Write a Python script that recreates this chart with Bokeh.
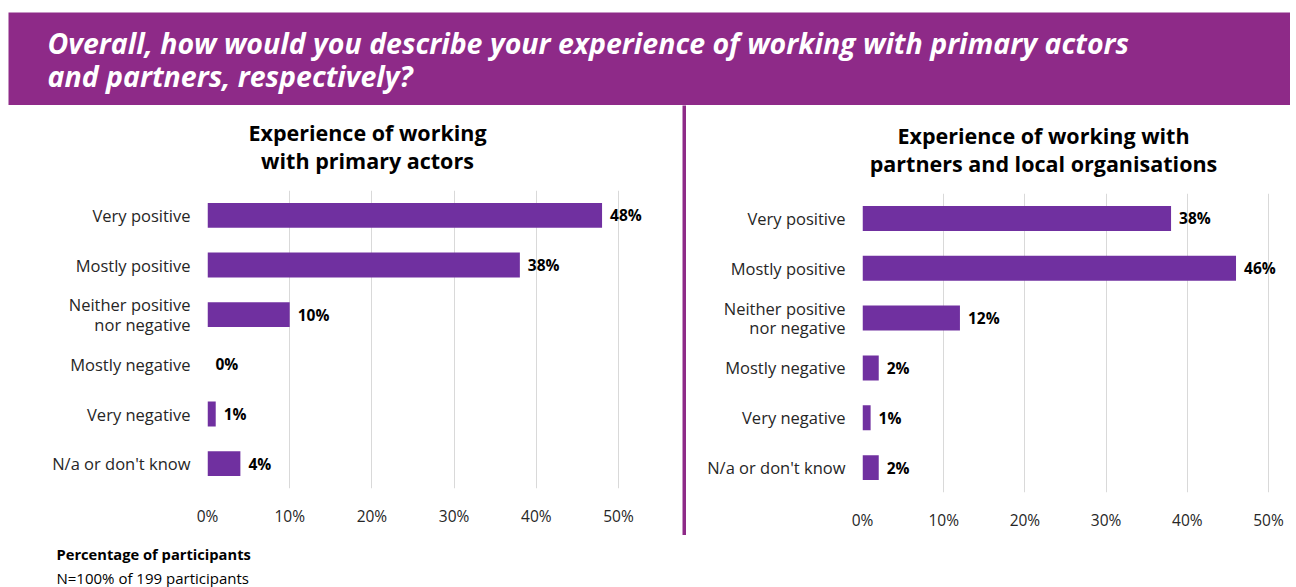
from bokeh.plotting import figure
from bokeh.models import Label, LabelSet, Range1d, FactorRange, ColumnDataSource, FixedTicker, Spacer
from bokeh.layouts import column, row
from bokeh.embed import file_html
from bokeh.resources import INLINE
from bokeh.core.properties import value

# ---------------- data ----------------
categories = ["Very positive", "Mostly positive", "Neither positive\nnor negative",
              "Mostly negative", "Very negative", "N/a or don't know"]
primary_actors = [48, 38, 10, 0, 1, 4]
partners = [38, 46, 12, 2, 1, 2]
x_ticks = [0, 10, 20, 30, 40, 50]
tick_labels = ["0%", "10%", "20%", "30%", "40%", "50%"]

banner_title = ["Overall, how would you describe your experience of working with primary actors",
                "and partners, respectively?"]
left_title = ["Experience of working", "with primary actors"]
right_title = ["Experience of working with", "partners and local organisations"]
footnotes = ["Percentage of participants", "N=100% of 199 participants"]

FONT = "Open Sans"
BAR = "#7030A0"
BANNER = "#8E2A88"
TXT = "#262626"


def text_fig(width, height, bg, items):
    """A figure whose frame fills it, in pixel coordinates (y down), for free text."""
    p = figure(width=width, height=height, output_backend="svg", toolbar_location=None,
               min_border=0, background_fill_color=bg, border_fill_color=bg,
               outline_line_color=None, x_range=Range1d(0, width), y_range=Range1d(height, 0),
               frame_align=False)
    p.axis.visible = False
    p.grid.visible = False
    for it in items:
        p.add_layout(Label(text_baseline="middle", text_font=FONT, **it))
    return p


def chart(vals, width, height, mb_top, mb_bottom, mb_left, xend):
    src = ColumnDataSource(dict(cat=categories, val=vals, lbl=[f"{v}%" for v in vals]))
    p = figure(width=width, height=height, y_range=FactorRange(factors=list(reversed(categories))),
               x_range=Range1d(0, xend), output_backend="svg", toolbar_location=None,
               min_border_top=mb_top, min_border_bottom=mb_bottom, min_border_left=mb_left,
               min_border_right=0, outline_line_color=None, frame_align=False)
    p.hbar(y="cat", right="val", left=0, height=0.5, source=src, fill_color=BAR,
           line_color=None)
    p.add_layout(LabelSet(x="val", y="cat", text="lbl", source=src, x_offset=8,
                          text_baseline="middle", text_font=value(FONT), text_font_style="bold",
                          text_font_size="15.5px", text_color="black"))
    p.xaxis.ticker = FixedTicker(ticks=x_ticks)
    p.xaxis.major_label_overrides = {t: l for t, l in zip(x_ticks, tick_labels)}
    for ax in (p.xaxis, p.yaxis):
        ax.axis_line_color = None
        ax.major_tick_line_color = None
        ax.minor_tick_line_color = None
        ax.major_tick_out = 0
        ax.major_tick_in = 0
        ax.major_label_text_font = FONT
        ax.major_label_text_color = TXT
    p.xaxis.major_label_text_font_size = "15.5px"
    p.xaxis.major_label_standoff = 16
    p.yaxis.major_label_text_font_size = "16.5px"
    p.yaxis.major_label_text_line_height = 0.85
    p.yaxis.major_label_standoff = 17
    p.ygrid.grid_line_color = None
    p.xgrid.ticker = FixedTicker(ticks=x_ticks)
    p.xgrid.grid_line_color = "#d9d9d9"
    p.xgrid.grid_line_width = 1
    return p


title_style = dict(text_align="center", text_font_style="bold", text_font_size="21.5px",
                   text_color="black")

# ---- left column (page x 8..682) ----
left_title_fig = text_fig(674, 78, "white", [
    dict(x=359, y=27, text=left_title[0], **title_style),
    dict(x=359, y=55, text=left_title[1], **title_style)])
left_chart = chart(primary_actors, 674, 352, 7, 47, 199, 475 / 8.22)
foot_fig = text_fig(674, 52, "white", [
    dict(x=48, y=18, text=footnotes[0], text_align="left", text_font_style="bold",
         text_font_size="14.7px", text_color="black"),
    dict(x=48, y=42, text=footnotes[1], text_align="left", text_font_style="normal",
         text_font_size="15px", text_color="black")])
left_col = column(left_title_fig, left_chart, foot_fig)

# ---- divider ----
divider = text_fig(4, 430, BANNER, [])

# ---- right column (page x 686..1290) ----
right_title_fig = text_fig(604, 80, "white", [
    dict(x=357, y=30, text=right_title[0], **title_style),
    dict(x=357, y=58, text=right_title[1], **title_style)])
right_chart = chart(partners, 604, 402, 8, 95, 176, 428 / 8.12)
right_col = column(right_title_fig, right_chart)

# ---- banner ----
banner_style = dict(text_align="left", text_font_style="bold italic", text_font_size="28.5px",
                    text_color="white")
banner = text_fig(1282, 93, BANNER, [
    dict(x=39, y=30, text=banner_title[0], **banner_style),
    dict(x=39, y=63, text=banner_title[1], **banner_style)])

layout = column(Spacer(width=1290, height=12),
                row(Spacer(width=8, height=93), banner),
                row(Spacer(width=8, height=482), left_col, divider, right_col))

open("out.html", "w").write(file_html(layout, INLINE))
